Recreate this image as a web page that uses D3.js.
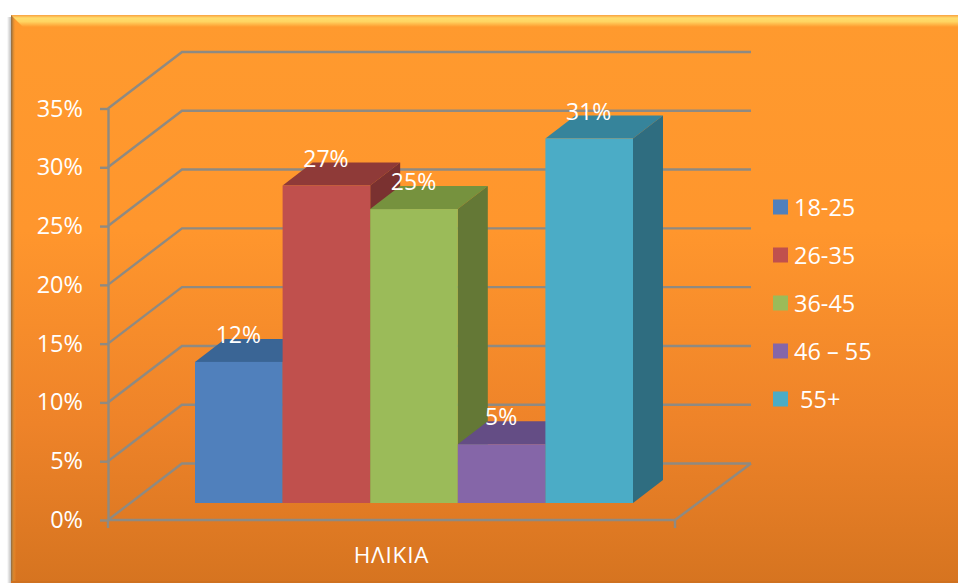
<!DOCTYPE html>
<html>
<head>
<meta charset="utf-8">
<script src="https://cdn.jsdelivr.net/npm/d3@7"></script>
<style>
  html, body { margin: 0; padding: 0; background: #fff; }
  svg { display: block; }
  text { font-family: "Open Sans", sans-serif; fill: #fff; }
</style>
</head>
<body>
<svg id="viz" width="958" height="583"></svg>
<script>
// chart values
const ageGroups = ["18-25", "26-35", "36-45", "46 – 55", " 55+"];
const shares = [12, 27, 25, 5, 31];
const axisTicks = [0, 5, 10, 15, 20, 25, 30, 35];
const axisTitle = "ΗΛΙΚΙΑ";

// colours per bar: front, top, side
const frontColors = ["#5080bc", "#c0504d", "#9bbb59", "#8566a8", "#4bacc6"];
const topColors = ["#3a6595", "#8f3a38", "#76923e", "#644d85", "#36849b"];
const sideColors = ["#335a85", "#7a3130", "#647836", "#564273", "#2f6d80"];

const svg = d3.select("#viz");
const defs = svg.append("defs");

// background panel gradient
const bg = defs.append("linearGradient").attr("id", "panel").attr("x2", 0).attr("y2", 1);
bg.append("stop").attr("offset", "0%").attr("stop-color", "#ff9a2e");
bg.append("stop").attr("offset", "38%").attr("stop-color", "#ff962d");
bg.append("stop").attr("offset", "72%").attr("stop-color", "#ee8329");
bg.append("stop").attr("offset", "100%").attr("stop-color", "#d67420");

// yellow highlight along the top bevel
const shine = defs.append("linearGradient").attr("id", "shine").attr("x2", 0).attr("y2", 1);
shine.append("stop").attr("offset", "0%").attr("stop-color", "#f9a040");
shine.append("stop").attr("offset", "25%").attr("stop-color", "#ffdc6c");
shine.append("stop").attr("offset", "55%").attr("stop-color", "#ffd562");
shine.append("stop").attr("offset", "100%").attr("stop-color", "#ff9a2e");

// thin shaded left rim
const edge = defs.append("linearGradient").attr("id", "edge");
edge.append("stop").attr("offset", "0%").attr("stop-color", "#8a6a45");
edge.append("stop").attr("offset", "35%").attr("stop-color", "#c98434");
edge.append("stop").attr("offset", "100%").attr("stop-color", "#ff9a2e").attr("stop-opacity", 0);

// soft grey shadow outside the panel
const shadow = defs.append("linearGradient").attr("id", "shadow");
shadow.append("stop").attr("offset", "0%").attr("stop-color", "#fff");
shadow.append("stop").attr("offset", "100%").attr("stop-color", "#bdbdbd");

svg.append("rect").attr("x", 7).attr("y", 17).attr("width", 4).attr("height", 566).attr("fill", "url(#shadow)");
svg.append("rect").attr("x", 11).attr("y", 15).attr("width", 947).attr("height", 568).attr("fill", "url(#panel)");
svg.append("rect").attr("x", 11).attr("y", 15).attr("width", 5).attr("height", 568).attr("fill", "url(#edge)");
svg.append("path").attr("d", "M11,15H958V27H23Z").attr("fill", "url(#shine)");
svg.append("rect").attr("x", 11).attr("y", 581).attr("width", 947).attr("height", 2).attr("fill", "#cf7120");

// layout of the fake 3d box
const wallDx = 74;
const wallDy = -56.5;
const barDx = 30;
const barDy = -23;
const barLift = -17;
const axisX = 108;
const floorRight = 675;

const y = d3.scaleLinear().domain([0, 35]).range([520, 108.5]);
const x = d3.scaleBand().domain(ageGroups).range([195, 633]);

// back wall gridlines with their slanted side wall part
const gridColor = "#8e8a82";
const gridWidth = 2.4;
svg.append("g")
  .selectAll("path")
  .data(axisTicks)
  .enter()
  .append("path")
  .attr("fill", "none")
  .attr("stroke", gridColor)
  .attr("stroke-width", gridWidth)
  .attr("d", (d) => {
    const line = d3.path();
    line.moveTo(axisX, y(d));
    line.lineTo(axisX + wallDx, y(d) + wallDy);
    line.lineTo(751, y(d) + wallDy);
    return line.toString();
  });

// floor front and right edges
const floor = d3.path();
floor.moveTo(axisX, y(0));
floor.lineTo(floorRight, y(0));
floor.lineTo(751, y(0) + wallDy);
floor.moveTo(floorRight, y(0));
floor.lineTo(floorRight, y(0) + 8);
svg.append("path").attr("d", floor.toString()).attr("fill", "none").attr("stroke", gridColor).attr("stroke-width", gridWidth);

// value axis
const axis = d3.axisLeft(y)
  .tickValues(axisTicks)
  .tickSize(8)
  .tickSizeOuter(0)
  .tickPadding(17)
  .tickFormat((d) => d + "%");
const axisG = svg.append("g").attr("transform", `translate(${axisX},0)`).call(axis);
axisG.selectAll("path, line").attr("stroke", gridColor).attr("stroke-width", gridWidth);
axisG.selectAll("text").attr("font-size", 23.5).attr("font-family", '"Open Sans", sans-serif').attr("fill", "#fff");
svg.append("line")
  .attr("x1", axisX).attr("x2", axisX)
  .attr("y1", y(0)).attr("y2", y(0) + 8)
  .attr("stroke", gridColor).attr("stroke-width", gridWidth);

// bars, left to right so later ones cover the earlier side faces
const bars = svg.append("g")
  .selectAll("g")
  .data(shares)
  .enter()
  .append("g");

const x0 = (i) => x(ageGroups[i]);
const x1 = (i) => x(ageGroups[i]) + x.bandwidth();
const yTop = (d) => y(d) + barLift;
const yBase = y(0) + barLift;

bars.append("polygon")
  .attr("fill", (d, i) => topColors[i])
  .attr("points", (d, i) => [
    [x0(i), yTop(d)],
    [x0(i) + barDx, yTop(d) + barDy],
    [x1(i) + barDx, yTop(d) + barDy],
    [x1(i), yTop(d)],
  ].join(" "));

bars.append("polygon")
  .attr("fill", (d, i) => sideColors[i])
  .attr("points", (d, i) => [
    [x1(i), yTop(d)],
    [x1(i) + barDx, yTop(d) + barDy],
    [x1(i) + barDx, yBase + barDy],
    [x1(i), yBase],
  ].join(" "));

bars.append("rect")
  .attr("x", (d, i) => x0(i))
  .attr("y", (d) => yTop(d))
  .attr("width", x.bandwidth())
  .attr("height", (d) => yBase - yTop(d))
  .attr("fill", (d, i) => frontColors[i]);

// value labels sit on top of the bars
svg.append("g")
  .selectAll("text")
  .data(shares)
  .enter()
  .append("text")
  .attr("x", (d, i) => x0(i) + x.bandwidth() / 2 - 0.5)
  .attr("y", (d) => yTop(d) - 19)
  .attr("text-anchor", "middle")
  .attr("font-size", 23)
  .text((d) => d + "%");

// category title
svg.append("text")
  .attr("x", 391.5)
  .attr("y", 563)
  .attr("text-anchor", "middle")
  .attr("font-size", 22.5)
  .attr("letter-spacing", 0.8)
  .text(axisTitle);

// legend
const legendY = d3.scalePoint().domain(ageGroups).range([207, 399]);
const legend = svg.append("g")
  .selectAll("g")
  .data(ageGroups)
  .enter()
  .append("g")
  .attr("transform", (d) => `translate(773,${legendY(d)})`);

legend.append("rect")
  .attr("y", -7.5)
  .attr("width", 15)
  .attr("height", 15)
  .attr("fill", (d, i) => frontColors[i]);

legend.append("text")
  .attr("x", 21)
  .attr("y", 8.5)
  .attr("font-size", 23.5)
  .attr("xml:space", "preserve")
  .style("white-space", "pre")
  .text((d) => d);
</script>
</body>
</html>
